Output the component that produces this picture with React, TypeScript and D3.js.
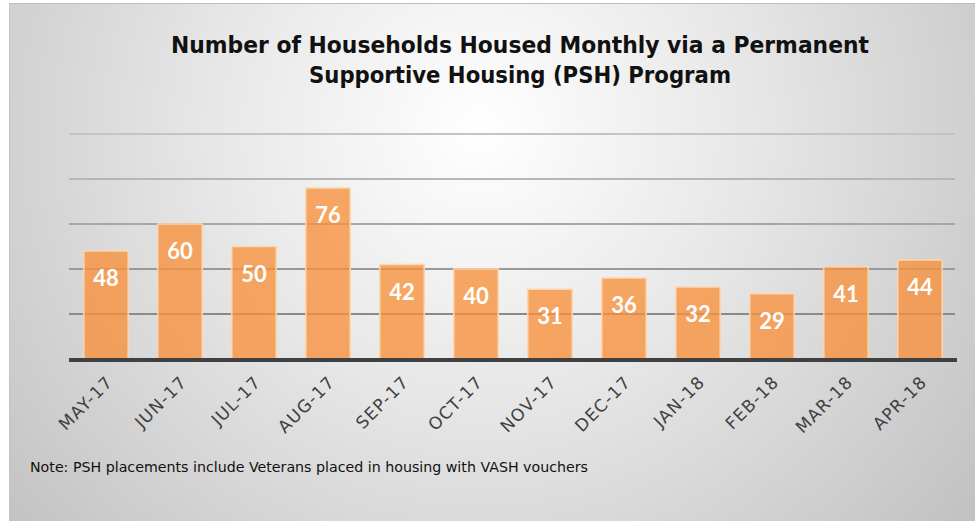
import React from "react";
import * as d3 from "d3";

const months = ["MAY-17","JUN-17","JUL-17","AUG-17","SEP-17","OCT-17","NOV-17","DEC-17","JAN-18","FEB-18","MAR-18","APR-18"];
const households = [48,60,50,76,42,40,31,36,32,29,41,44];
const gridTicks = [20,40,60,80,100];
const titleLines = ["Number of Households Housed Monthly via a Permanent","Supportive Housing (PSH) Program"];
const note = "Note: PSH placements include Veterans placed in housing with VASH vouchers";

export default function App() {
  const W = 975, H = 521;
  const left = 69, right = 957, top = 134, base = 359;
  const x = d3.scaleBand<string>().domain(months).range([left, right]).paddingInner(0.4).paddingOuter(0.2);
  const y = d3.scaleLinear().domain([0, 100]).range([base, top]);
  const gridColor = d3.scaleLinear<string>().domain([20, 100]).range(["#8a8a8a", "#c4c4c4"]);

  return (
    <div style={{ position: "absolute", left: 0, top: 0 }}>
      <svg width={W} height={H} style={{ display: "block" }}>
        <defs>
          <radialGradient id="bg" gradientUnits="userSpaceOnUse" cx={480} cy={130} r={620} fx={480} fy={130}>
            <stop offset="0" stopColor="#ffffff" />
            <stop offset="0.45" stopColor="#e6e6e6" />
            <stop offset="1" stopColor="#c2c2c2" />
          </radialGradient>
        </defs>
        <rect x={0} y={0} width={W} height={H} fill="#ffffff" />
        <rect x={9} y={3} width={W - 9} height={H - 3} fill="url(#bg)" />
        <line x1={9} x2={W} y1={3.5} y2={3.5} stroke="#bdbdbd" strokeWidth={1} />
        <line x1={9.5} x2={9.5} y1={3} y2={H} stroke="#c4c4c4" strokeWidth={1} />

        {titleLines.map((t, i) => (
          <text key={t} x={520} y={53 + i * 30} textAnchor="middle"
            fontFamily="'DejaVu Sans Condensed', 'DejaVu Sans', sans-serif" fontWeight="bold" fontSize={23.5}
            fill="#111" textLength={i === 0 ? 698 : 422} lengthAdjust="spacingAndGlyphs">{t}</text>
        ))}

        {gridTicks.map(v => (
          <line key={v} x1={left} x2={right - 2} y1={y(v)} y2={y(v)} stroke={gridColor(v)} strokeWidth={2} />
        ))}

        {months.map((m, i) => {
          const v = households[i];
          const bx = x(m)!;
          return (
            <g key={m}>
              <rect x={bx} y={y(v)} width={x.bandwidth()} height={base - y(v)}
                fill="#f7913a" fillOpacity={0.78} stroke="#fcd6b2" strokeWidth={1.5} />
              <text x={bx + x.bandwidth() / 2} y={y(v) + 35} textAnchor="middle"
                fontFamily="Lato, 'DejaVu Sans', sans-serif" fontWeight="bold" fontSize={22} fill="#ffffff">{v}</text>
            </g>
          );
        })}

        <line x1={left} x2={right} y1={base + 1} y2={base + 1} stroke="#404040" strokeWidth={4} />

        {months.map(m => {
          const cx = x(m)! + x.bandwidth() / 2;
          return (
            <text key={m} transform={`translate(${cx + 8},${383}) rotate(-45)`} textAnchor="end"
              fontFamily="'DejaVu Sans', sans-serif" fontSize={17} letterSpacing={1.2} fill="#404040">{m}</text>
          );
        })}

        <text x={30} y={472} fontFamily="'DejaVu Sans', sans-serif" fontSize={14} fill="#111"
          textLength={558} lengthAdjust="spacingAndGlyphs">{note}</text>
      </svg>
    </div>
  );
}
